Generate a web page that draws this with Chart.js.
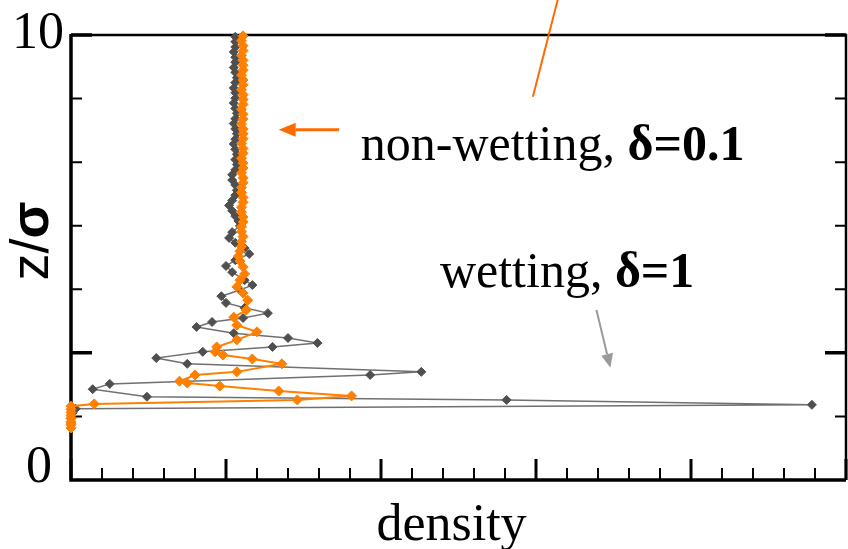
<!DOCTYPE html>
<html>
<head>
<meta charset="utf-8">
<script src="https://cdn.jsdelivr.net/npm/chart.js@4"></script>
<style>
  html, body { margin: 0; padding: 0; background: #fff; overflow: hidden; }
  #chart_container { width: 852px; height: 549px; }
</style>
</head>
<body>
<div id="chart_container"><canvas id="myChart" width="852" height="549"></canvas></div>
<script>
// wetting, delta = 1 (grey)
const wettingZ = [1.17, 1.28, 1.39, 1.51, 1.60, 1.69, 1.80, 1.87, 2.04, 2.16, 2.36, 2.43, 2.61, 2.74, 2.88, 2.99,
    3.08, 3.19, 3.30, 3.44, 3.55, 3.64, 3.75, 3.87, 3.98, 4.13, 4.27, 4.38, 4.49, 4.67, 4.81, 4.94, 5.08, 5.21,
    5.33, 5.44, 5.57, 5.71, 5.82, 5.93, 6.05, 6.17, 6.28, 6.40, 6.51, 6.63, 6.74, 6.86, 6.97, 7.09, 7.20, 7.32,
    7.43, 7.55, 7.66, 7.78, 7.89, 8.01, 8.12, 8.24, 8.35, 8.47, 8.58, 8.70, 8.81, 8.93, 9.04, 9.16, 9.27, 9.39,
    9.50, 9.62, 9.73, 9.85, 9.96];
const wettingDensity = [0, 0, 0, 0.01, 0.03, 4.78, 2.81, 0.49, 0.14, 0.25, 1.93, 2.26, 0.75, 0.55, 0.85, 1.30,
    1.59, 1.40, 1.05, 0.81, 0.91, 1.11, 1.27, 1.12, 1.00, 0.97, 1.09, 1.17, 1.12, 1.04, 1.00, 1.06, 1.15, 1.12,
    1.06, 1.02, 1.04, 1.09, 1.08, 1.06, 1.04, 1.02, 1.04, 1.06, 1.07, 1.06, 1.04, 1.04, 1.06, 1.07, 1.06, 1.07,
    1.06, 1.05, 1.06, 1.07, 1.06, 1.05, 1.06, 1.07, 1.06, 1.05, 1.06, 1.06, 1.05, 1.06, 1.07, 1.06, 1.05, 1.06,
    1.06, 1.05, 1.06, 1.06, 1.06];

// non-wetting, delta = 0.1 (orange)
const nonWettingZ = [1.17, 1.24, 1.31, 1.38, 1.45, 1.52, 1.59, 1.66, 1.71, 1.80, 1.89, 2.00, 2.11, 2.18, 2.22,
    2.36, 2.43, 2.61, 2.72, 2.81, 2.88, 2.99, 3.15, 3.33, 3.48, 3.66, 3.82, 4.04, 4.20, 4.34, 4.49, 4.63, 4.79,
    4.92, 5.03, 5.14, 5.25, 5.36, 5.47, 5.58, 5.69, 5.80, 5.91, 6.02, 6.13, 6.24, 6.35, 6.46, 6.57, 6.68, 6.79,
    6.90, 7.01, 7.12, 7.23, 7.34, 7.45, 7.56, 7.67, 7.78, 7.89, 8.00, 8.11, 8.22, 8.33, 8.44, 8.55, 8.66, 8.77,
    8.88, 8.99, 9.10, 9.21, 9.32, 9.43, 9.54, 9.65, 9.76, 9.87, 9.98];
const nonWettingDensity = [0, 0, 0, 0, 0, 0, 0, 0, 0.15, 1.46, 1.81, 1.34, 0.96, 0.75, 0.70,
    0.80, 1.07, 1.36, 1.17, 0.98, 0.93, 0.94, 1.07, 1.20, 1.07, 1.05, 1.13, 1.14, 1.11, 1.07, 1.09, 1.12, 1.11,
    1.09, 1.08, 1.09, 1.10, 1.10, 1.11, 1.10, 1.10, 1.11, 1.11, 1.10, 1.10, 1.11, 1.11, 1.10, 1.10, 1.11, 1.11,
    1.10, 1.11, 1.11, 1.10, 1.11, 1.11, 1.10, 1.11, 1.11, 1.11, 1.10, 1.11, 1.11, 1.10, 1.11, 1.11, 1.11, 1.10,
    1.11, 1.11, 1.10, 1.11, 1.11, 1.11, 1.10, 1.11, 1.11, 1.10, 1.11];

const xTicks = [0, 0.2, 0.4, 0.6, 0.8, 1, 1.2, 1.4, 1.6, 1.8, 2, 2.2, 2.4, 2.6, 2.8, 3, 3.2, 3.4, 3.6, 3.8,
    4, 4.2, 4.4, 4.6, 4.8, 5];
const xMajorTicks = [0, 1, 2, 3, 4, 5];
const yTicks = [0, 1.429, 2.857, 4.286, 5.714, 7.143, 8.571, 10];
const yMajorTicks = [2.857, 10];
const yLabelValues = [10, 0];
const yLabelTexts = ["10", "0"];

const serif = '"Liberation Serif", "Times New Roman", serif';
const sans = '"Liberation Sans", Arial, sans-serif';

// annotation arrows / labels, in data units (density, z)
const annotations = {
    nonWettingArrow: { from: [1.73, 7.87], to: [1.34, 7.87], color: "#ff6a00" },
    wettingArrow: { from: [3.39, 3.82], to: [3.48, 2.52], color: "#9a9a9a" },
    pointer: { from: [2.98, 8.61], to: [3.14, 10.79], color: "#ff6a00" },
    nonWettingLabel: { at: [1.87, 7.19], runs: [["non-wetting, ", false], ["\u03b4=0.1", true]] },
    wettingLabel: { at: [2.38, 4.34], runs: [["wetting, ", false], ["\u03b4=1", true]] },
};

function toPoints(xs, ys) {
    return xs.map((x, i) => ({ x, y: ys[i] }));
}

function drawRuns(ctx, runs, x, y, size, family) {
    runs.forEach(([text, bold]) => {
        ctx.font = (bold ? "bold " : "") + size + "px " + family;
        ctx.fillText(text, x, y);
        x += ctx.measureText(text).width;
    });
}

function drawArrow(ctx, x0, y0, x1, y1, color, width, headLen, headHalf) {
    const ang = Math.atan2(y1 - y0, x1 - x0);
    const bx = x1 - Math.cos(ang) * headLen;
    const by = y1 - Math.sin(ang) * headLen;
    ctx.strokeStyle = color;
    ctx.fillStyle = color;
    ctx.lineWidth = width;
    ctx.beginPath();
    ctx.moveTo(x0, y0);
    ctx.lineTo(bx, by);
    ctx.stroke();
    ctx.beginPath();
    ctx.moveTo(x1, y1);
    ctx.lineTo(bx + Math.sin(ang) * headHalf, by - Math.cos(ang) * headHalf);
    ctx.lineTo(bx - Math.sin(ang) * headHalf, by + Math.cos(ang) * headHalf);
    ctx.closePath();
    ctx.fill();
}

const axisFrame = {
    id: "axisFrame",
    beforeDatasetsDraw(chart) {
        const { ctx, chartArea: a, scales: { x, y } } = chart;
        ctx.save();
        ctx.strokeStyle = "#000";
        ctx.lineWidth = 2.5;
        ctx.beginPath();
        ctx.moveTo(a.left, a.top);
        ctx.lineTo(a.right, a.top);
        ctx.lineTo(a.right, a.bottom);
        ctx.stroke();

        ctx.lineWidth = 3.5;
        ctx.beginPath();
        ctx.moveTo(a.left, a.top - 1);
        ctx.lineTo(a.left, a.bottom);
        ctx.lineTo(a.right, a.bottom);
        ctx.stroke();

        yTicks.forEach(v => {
            const py = y.getPixelForValue(v);
            const major = yMajorTicks.includes(v);
            const len = major ? 21 : 11;
            ctx.lineWidth = major ? 3.5 : 2;
            ctx.beginPath();
            ctx.moveTo(a.left, py);
            ctx.lineTo(a.left + len, py);
            ctx.moveTo(a.right, py);
            ctx.lineTo(a.right - len, py);
            ctx.stroke();
        });

        xTicks.forEach(v => {
            const px = x.getPixelForValue(v);
            const major = xMajorTicks.includes(v);
            ctx.lineWidth = major ? 3 : 2;
            ctx.beginPath();
            ctx.moveTo(px, a.bottom);
            ctx.lineTo(px, a.bottom - (major ? 21 : 12));
            ctx.stroke();
        });
        ctx.restore();
    },
    afterDraw(chart) {
        const { ctx, chartArea: a, scales: { x, y } } = chart;
        ctx.save();
        ctx.fillStyle = "#000";
        ctx.textBaseline = "alphabetic";

        // y tick labels
        ctx.font = "52px " + serif;
        ctx.textAlign = "right";
        yLabelValues.forEach((v, i) => {
            const py = y.getPixelForValue(v);
            if (v === 10) ctx.fillText(yLabelTexts[i], a.left - 7, py + 13);
            else ctx.fillText(yLabelTexts[i], a.left - 19, py + 2);
        });

        // x title
        ctx.textAlign = "center";
        ctx.font = "52px " + serif;
        ctx.fillText("density", (a.left + a.right) / 2 - 7, a.bottom + 60);

        // y title, rotated
        ctx.save();
        ctx.translate(48, 241);
        ctx.rotate(-Math.PI / 2);
        ctx.textAlign = "left";
        const yRuns = [["z/", false], ["\u03c3", true]];
        let w = 0;
        yRuns.forEach(([t, b]) => { ctx.font = (b ? "bold " : "") + "54px " + sans; w += ctx.measureText(t).width; });
        drawRuns(ctx, yRuns, -w / 2, 0, 54, sans);
        ctx.restore();

        // annotation labels
        ctx.textAlign = "left";
        [annotations.nonWettingLabel, annotations.wettingLabel].forEach(l => {
            drawRuns(ctx, l.runs, x.getPixelForValue(l.at[0]), y.getPixelForValue(l.at[1]), 50, serif);
        });

        // arrows
        const na = annotations.nonWettingArrow;
        drawArrow(ctx, x.getPixelForValue(na.from[0]), y.getPixelForValue(na.from[1]),
            x.getPixelForValue(na.to[0]), y.getPixelForValue(na.to[1]), na.color, 3, 17, 7);
        const wa = annotations.wettingArrow;
        drawArrow(ctx, x.getPixelForValue(wa.from[0]), y.getPixelForValue(wa.from[1]),
            x.getPixelForValue(wa.to[0]), y.getPixelForValue(wa.to[1]), wa.color, 2, 14, 6);
        const pl = annotations.pointer;
        ctx.strokeStyle = pl.color;
        ctx.lineWidth = 2;
        ctx.beginPath();
        ctx.moveTo(x.getPixelForValue(pl.from[0]), y.getPixelForValue(pl.from[1]));
        ctx.lineTo(x.getPixelForValue(pl.to[0]), y.getPixelForValue(pl.to[1]));
        ctx.stroke();
        ctx.restore();
    }
};

const ctx = document.getElementById("myChart").getContext("2d");
const chart = new Chart(ctx, {
    type: "scatter",
    data: {
        datasets: [
            {
                label: "non-wetting, \u03b4=0.1",
                data: toPoints(nonWettingDensity, nonWettingZ),
                showLine: true,
                borderColor: "#ff7f00",
                backgroundColor: "#ff7f00",
                borderWidth: 2,
                pointStyle: "rectRot",
                pointRadius: 5,
                pointBorderWidth: 1,
                clip: false,
                order: 0
            },
            {
                label: "wetting, \u03b4=1",
                data: toPoints(wettingDensity, wettingZ),
                showLine: true,
                borderColor: "#707070",
                backgroundColor: "#4f4f4f",
                pointBorderColor: "#4f4f4f",
                borderWidth: 1.5,
                pointStyle: "rectRot",
                pointRadius: 4.5,
                pointBorderWidth: 1,
                clip: false,
                order: 1
            },
        ],
    },
    options: {
        responsive: false,
        animation: false,
        layout: { padding: { left: 71, top: 35, right: 3, bottom: 69 } },
        plugins: {
            legend: { display: false },
            tooltip: { enabled: false },
        },
        scales: {
            x: { type: "linear", min: 0, max: 5, display: false },
            y: { type: "linear", min: 0, max: 10, display: false },
        },
    },
    plugins: [axisFrame],
});
</script>
</body>
</html>
